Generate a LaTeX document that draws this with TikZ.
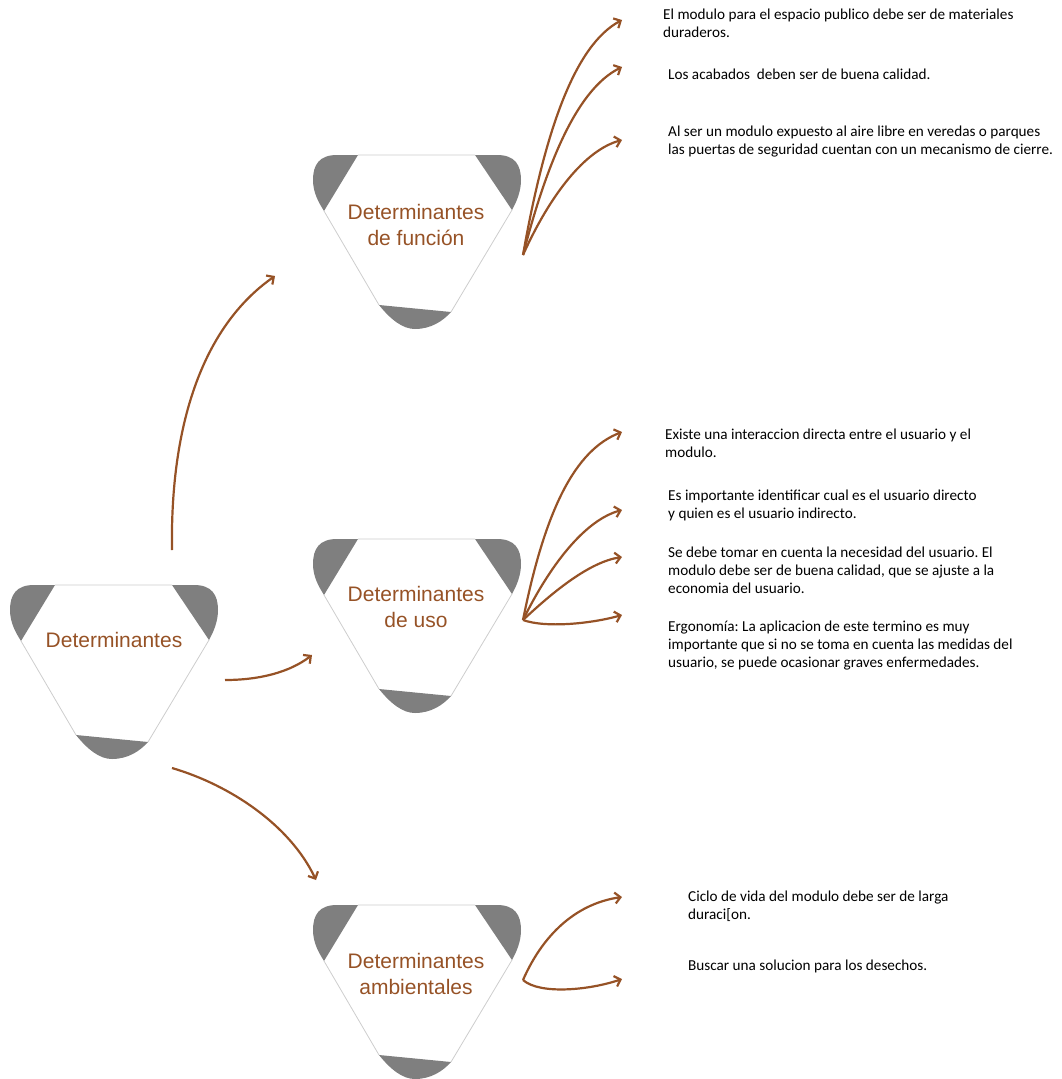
\documentclass[tikz,border=0pt]{standalone}
\usepackage{fontspec}
\setmainfont{Carlito}
\newfontfamily\arialf{Liberation Sans}
\usetikzlibrary{arrows.meta}
\definecolor{brn}{RGB}{150,82,38}
\definecolor{capg}{RGB}{127,127,127}
\definecolor{edgeg}{RGB}{205,205,205}
\frenchspacing
\newcommand\detshape[2]{%
\begin{scope}[shift={(#1,#2)}]
 \fill[capg] (45,0) -- (24,0) .. controls (6,0) and (0,10) .. (0,25) .. controls (0,38) and (6,48) .. (11,56) -- cycle;
 \fill[capg] (162,0) -- (184,0) .. controls (202,0) and (208,10) .. (208,25) .. controls (208,36) and (204,46) .. (199,55) -- cycle;
 \fill[capg] (66,150) .. controls (78,165) and (90,174) .. (102,174) .. controls (118,174) and (130,166) .. (138,157) -- cycle;
 \draw[edgeg,line width=0.8pt] (45,0) -- (162,0) (11,56) -- (66,150) (199,55) -- (138,157);
\end{scope}}
\tikzset{
 conn/.style={brn,line width=2.2pt,-{Straight Barb[length=5.5pt,width=11pt]}},
 title/.style={brn,font=\arialf\fontsize{21}{26}\selectfont,align=center,inner sep=0pt},
 note/.style={black,font=\fontsize{15.2}{18}\selectfont,align=left,anchor=north west,inner sep=0pt}
}
\begin{document}
\begin{tikzpicture}[x=1pt,y=-1pt]
\useasboundingbox (0,0) rectangle (1062,1079);
\detshape{10}{585}
\detshape{313}{155}
\detshape{313}{539}
\detshape{313}{905}
\node[title] (d0) at (114,640) {Determinantes};
\node[title] (d1) at (416,225) {Determinantes\\de función};
\node[title] (d2) at (416,607) {Determinantes\\de uso};
\node[title] (d3) at (416,974) {Determinantes\\ambientales};
% main connectors
\coordinate (m1s) at (172,550); \coordinate (m1e) at (275,276);
\coordinate (m2s) at (225,680); \coordinate (m2e) at (312,655);
\coordinate (m3s) at (172,768); \coordinate (m3e) at (316,880);
\draw[conn] (m1s) .. controls (170,420) and (205,325) .. (m1e);
\draw[conn] (m2s) .. controls (260,680) and (290,672) .. (m2e);
\draw[conn] (m3s) .. controls (230,785) and (290,825) .. (m3e);
% texts
\node[note] (t11) at (663,9) {El modulo para el espacio publico debe ser de materiales\\duraderos.};
\node[note] (t12) at (668,69) {Los acabados\ \ deben ser de buena calidad.};
\node[note] (t13) at (668,126) {Al ser un modulo expuesto al aire libre en veredas o parques\\las puertas de seguridad cuentan con un mecanismo de cierre.};
\node[note] (t21) at (665,429) {Existe una interaccion directa entre el usuario y el\\modulo.};
\node[note] (t22) at (668,490) {Es importante identificar cual es el usuario directo\\y quien es el usuario indirecto.};
\node[note] (t23) at (668,547) {Se debe tomar en cuenta la necesidad del usuario. El\\modulo debe ser de buena calidad, que se ajuste a la\\economia del usuario.};
\node[note] (t24) at (668,621) {Ergonomía: La aplicacion de este termino es muy\\importante que si no se toma en cuenta las medidas del\\usuario, se puede ocasionar graves enfermedades.};
\node[note] (t31) at (688,891) {Ciclo de vida del modulo debe ser de larga\\duraci[on.};
\node[note] (t32) at (688,960) {Buscar una solucion para los desechos.};
% group 1
\coordinate (g1) at (523,255);
\coordinate (e11) at (622,20);
\coordinate (e12) at (622,67);
\coordinate (e13) at (622,140);
\draw[conn] (g1) .. controls (545,130) and (575,45) .. (e11);
\draw[conn] (g1) .. controls (545,170) and (575,90) .. (e12);
\draw[conn] (g1) .. controls (550,195) and (585,150) .. (e13);
% group 2
\coordinate (g2) at (523,620);
\coordinate (e21) at (622,432);
\coordinate (e22) at (622,510);
\coordinate (e23) at (622,557);
\coordinate (e24) at (622,615);
\draw[conn] (g2) .. controls (545,510) and (575,450) .. (e21);
\draw[conn] (g2) .. controls (550,565) and (585,520) .. (e22);
\draw[conn] (g2) .. controls (555,590) and (590,562) .. (e23);
\draw[conn] (g2) .. controls (545,628) and (590,624) .. (e24);
% group 3
\coordinate (g3) at (523,980);
\coordinate (e31) at (622,897);
\coordinate (e32) at (622,979);
\draw[conn] (g3) .. controls (545,930) and (580,903) .. (e31);
\draw[conn] (g3) .. controls (540,995) and (590,990) .. (e32);
\end{tikzpicture}
\end{document}
